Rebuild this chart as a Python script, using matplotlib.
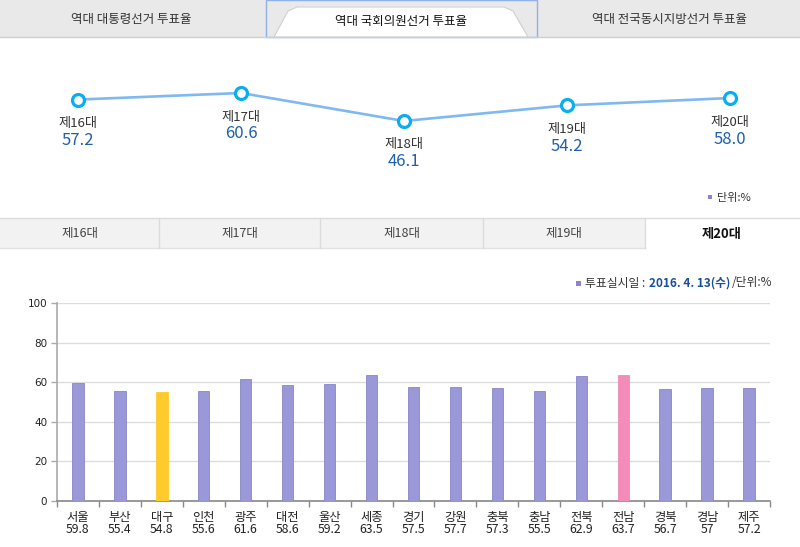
import matplotlib
matplotlib.use('Agg')
import matplotlib.pyplot as plt
from matplotlib.patches import Rectangle, Polygon
from matplotlib.lines import Line2D
from matplotlib.offsetbox import TextArea, HPacker, AnchoredOffsetbox

plt.rcParams['font.family'] = ['Noto Sans CJK KR', 'DejaVu Sans']

# top tabs
top_tabs = ['역대 대통령선거 투표율', '역대 국회의원선거 투표율', '역대 전국동시지방선거 투표율']

# turnout by election
elections = ['제16대', '제17대', '제18대', '제19대', '제20대']
turnout = [57.2, 60.6, 46.1, 54.2, 58.0]

# 20th election by region
regions = ['서울', '부산', '대구', '인천', '광주', '대전', '울산', '세종', '경기',
           '강원', '충북', '충남', '전북', '전남', '경북', '경남', '제주']
region_vals = [59.8, 55.4, 54.8, 55.6, 61.6, 58.6, 59.2, 63.5, 57.5,
               57.7, 57.3, 55.5, 62.9, 63.7, 56.7, 57, 57.2]
region_lbls = ['59.8', '55.4', '54.8', '55.6', '61.6', '58.6', '59.2', '63.5', '57.5',
               '57.7', '57.3', '55.5', '62.9', '63.7', '56.7', '57', '57.2']
yticks = [0, 20, 40, 60, 80, 100]

W, H = 800, 547
fig = plt.figure(figsize=(W / 100, H / 100), dpi=100)
fig.patch.set_facecolor('white')


def fx(x):
    return x / W


def fy(y):
    return 1 - y / H


def px_rect(x0, y0, x1, y1, **kw):
    r = Rectangle((fx(x0), fy(y1)), fx(x1) - fx(x0), fy(y0) - fy(y1),
                  transform=fig.transFigure, **kw)
    fig.add_artist(r)


def px_line(xs, ys, **kw):
    fig.add_artist(Line2D([fx(x) for x in xs], [fy(y) for y in ys],
                          transform=fig.transFigure, **kw))


# ---- top tab bar
px_rect(0, 0, 800, 37, facecolor='#e9e9e9', edgecolor='none')
px_line([0, 800], [37, 37], color='#cfcfcf', lw=1)
px_rect(265.5, 0.5, 536.5, 36.5, facecolor='#e9e9e9', edgecolor='#8fb0e8', lw=1)
trap = [(274, 37), (288, 11), (297, 7), (504, 7), (513, 11), (528, 37)]
fig.add_artist(Polygon([(fx(a), fy(b)) for a, b in trap], closed=True,
                       transform=fig.transFigure, facecolor='white',
                       edgecolor='#d0d0d0', lw=0.8))
for xc, t, c in zip([131, 401, 669], top_tabs, ['#333333', '#111111', '#333333']):
    fig.text(fx(xc), fy(19 if xc != 401 else 21), t, ha='center', va='center',
             fontsize=9, color=c)

# ---- line chart
ax1 = fig.add_axes([0, fy(215), 1, fy(40) - fy(215)])
ax1.set_xlim(-78 / 163, (W - 78) / 163)
ax1.set_ylim(60.6 - (215 - 93) / 1.931, 60.6 - (40 - 93) / 1.931)
ax1.axis('off')
xs = list(range(len(elections)))
ax1.plot(xs, turnout, color='#80b8f2', lw=1.9, zorder=2)
ax1.plot(xs, turnout, 'o', ms=8.6, mfc='white', mec='#0aaef0', mew=2.3, zorder=3)
for i, (e, v) in enumerate(zip(elections, turnout)):
    ax1.annotate(e, (i, v), xytext=(0, -24), textcoords='offset pixels',
                 ha='center', va='center', fontsize=9.5, color='#333333')
    ax1.annotate(f'{v:.1f}', (i, v), xytext=(0, -41), textcoords='offset pixels',
                 ha='center', va='center', fontsize=12, color='#1f5fae')

px_rect(708, 195, 712, 199, facecolor='#8d84d0', edgecolor='none')
fig.text(fx(717), fy(198), '단위:%', ha='left', va='center', fontsize=8, color='#333333')

# ---- second tab bar
px_rect(0, 218, 645, 248, facecolor='#f2f2f2', edgecolor='none')
px_line([0, 800], [218, 218], color='#dcdcdc', lw=1)
px_line([0, 645], [248, 248], color='#e2e2e2', lw=1)
for sx in [159, 320, 483, 645]:
    px_line([sx, sx], [218, 248], color='#dcdcdc', lw=1)
for xc, t in zip([80, 240, 402, 564], elections[:4]):
    fig.text(fx(xc), fy(234), t, ha='center', va='center', fontsize=9, color='#444444')
fig.text(fx(722), fy(234), elections[4], ha='center', va='center', fontsize=9.5,
         color='#111111', fontweight='bold')

# ---- bar chart
ax2 = fig.add_axes([fx(57), fy(501), fx(770) - fx(57), fy(303) - fy(501)])
colors = []
for r in regions:
    if r == '대구':
        colors.append('#ffca2c')
    elif r == '전남':
        colors.append('#f48cba')
    else:
        colors.append('#9a98d8')
edges = ['#8886c8' if c == '#9a98d8' else c for c in colors]
ax2.bar(range(len(regions)), region_vals, width=0.27, color=colors,
        edgecolor=edges, lw=0.6, zorder=3)
ax2.set_xlim(-0.5, len(regions) - 0.5)
ax2.set_ylim(0, 100)
ax2.set_yticks(yticks)
ax2.set_yticklabels([str(t) for t in yticks], fontsize=7.5, family='DejaVu Sans',
                    color='#222222')
ax2.grid(axis='y', color='#dddddd', lw=1, zorder=0)
ax2.set_xticks(range(len(regions)))
ax2.set_xticklabels([f'{r}\n{v}' for r, v in zip(regions, region_lbls)],
                    fontsize=8.8, color='#222222', linespacing=0.95)
ax2.set_xticks([i - 0.5 for i in range(len(regions) + 1)], minor=True)
ax2.tick_params(axis='x', which='major', length=0, pad=7)
ax2.tick_params(axis='x', which='minor', length=4, color='#888888', width=1)
ax2.tick_params(axis='y', length=4, color='#aaaaaa', width=1, pad=3)
for s in ['top', 'right']:
    ax2.spines[s].set_visible(False)
ax2.spines['left'].set_color('#aaaaaa')
ax2.spines['bottom'].set_color('#888888')
ax2.spines['left'].set_linewidth(1.2)
ax2.spines['bottom'].set_linewidth(1.2)

# legend note
px_rect(576, 281, 581, 286, facecolor='#8d84d0', edgecolor='none')
parts = [
    TextArea('투표실시일 : ', textprops=dict(fontsize=8.5, color='#333333')),
    TextArea('2016. 4. 13(수)', textprops=dict(fontsize=8.5, color='#1a4f9c',
                                               fontweight='bold')),
    TextArea('/단위:%', textprops=dict(fontsize=8.5, color='#333333')),
]
box = HPacker(children=parts, align='baseline', pad=0, sep=1)
ab = AnchoredOffsetbox(loc='center left', child=box, pad=0, frameon=False,
                       bbox_to_anchor=(fx(585), fy(283)),
                       bbox_transform=fig.transFigure, borderpad=0)
fig.add_artist(ab)

fig.savefig('out.png', dpi=100)
